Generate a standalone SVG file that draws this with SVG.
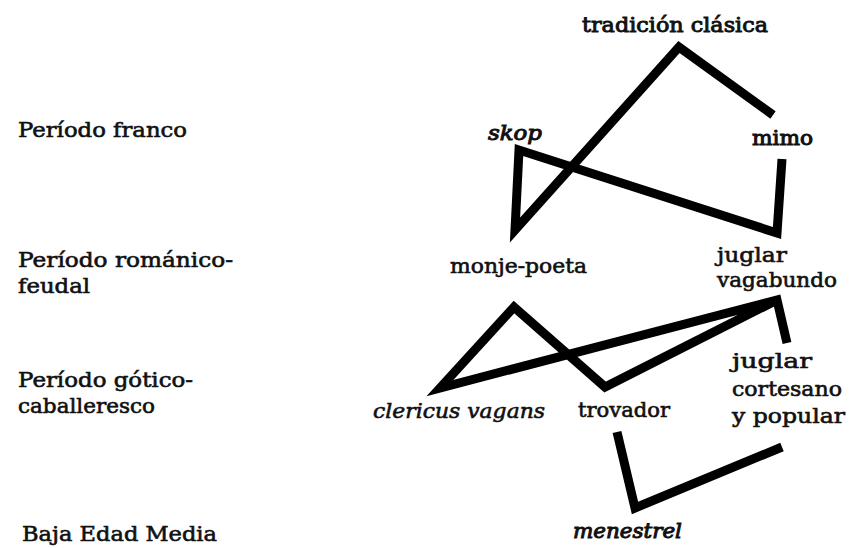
<svg xmlns="http://www.w3.org/2000/svg" width="852" height="548" viewBox="0 0 852 548">
<style>
  text { font-family: "DejaVu Serif", "Liberation Serif", serif; font-size: 20px; fill: #111; stroke: #111; stroke-width: 0.6; }
  .it { font-style: italic; }
  .edge { fill: none; stroke: #000; stroke-width: 9; stroke-linejoin: miter; stroke-linecap: butt; }
</style>
<rect width="852" height="548" fill="#fff"/>
<g id="periods">
  <g id="p-franco"><text x="18" y="137" textLength="169" lengthAdjust="spacingAndGlyphs">Período franco</text></g>
  <g id="p-romanico"><text x="18" y="267" textLength="215" lengthAdjust="spacingAndGlyphs">Período románico-</text><text x="18" y="293" textLength="72" lengthAdjust="spacingAndGlyphs">feudal</text></g>
  <g id="p-gotico"><text x="18" y="387" textLength="175" lengthAdjust="spacingAndGlyphs">Período gótico-</text><text x="18" y="413" textLength="137" lengthAdjust="spacingAndGlyphs">caballeresco</text></g>
  <g id="p-baja"><text x="22" y="541" textLength="195" lengthAdjust="spacingAndGlyphs">Baja Edad Media</text></g>
</g>
<g id="connectors">
  <path class="edge" d="M773,115 L679,47 L515,230 L519,150 L777,233 L782,159"/>
  <path class="edge" d="M787,343 L777,300 L440,388 L514,307 L605,387 L777,300"/>
  <path class="edge" d="M617,432 L635,508 L782,447"/>
</g>
<g id="tradicion"><text x="582" y="32" textLength="186" lengthAdjust="spacingAndGlyphs" style="stroke-width:0.9">tradición clásica</text></g>
<g id="skop"><text class="it" x="488" y="140" textLength="54" lengthAdjust="spacingAndGlyphs" style="stroke-width:1">skop</text></g>
<g id="mimo"><text x="752" y="145" textLength="61" lengthAdjust="spacingAndGlyphs" style="stroke-width:1">mimo</text></g>
<g id="monje"><text x="450" y="273" textLength="137" lengthAdjust="spacingAndGlyphs">monje-poeta</text></g>
<g id="juglar-vagabundo"><text x="717" y="262" textLength="70" lengthAdjust="spacingAndGlyphs">juglar</text><text x="717" y="287" textLength="120" lengthAdjust="spacingAndGlyphs">vagabundo</text></g>
<g id="clericus"><text class="it" x="373" y="418" textLength="172" lengthAdjust="spacingAndGlyphs">clericus vagans</text></g>
<g id="trovador"><text x="578" y="417" textLength="92" lengthAdjust="spacingAndGlyphs">trovador</text></g>
<g id="juglar-cortesano"><text x="732" y="368" textLength="80" lengthAdjust="spacingAndGlyphs">juglar</text><text x="732" y="396" textLength="110" lengthAdjust="spacingAndGlyphs">cortesano</text><text x="732" y="423" textLength="113" lengthAdjust="spacingAndGlyphs">y popular</text></g>
<g id="menestrel"><text class="it" x="573" y="538" textLength="109" lengthAdjust="spacingAndGlyphs" style="stroke-width:1">menestrel</text></g>
</svg>
